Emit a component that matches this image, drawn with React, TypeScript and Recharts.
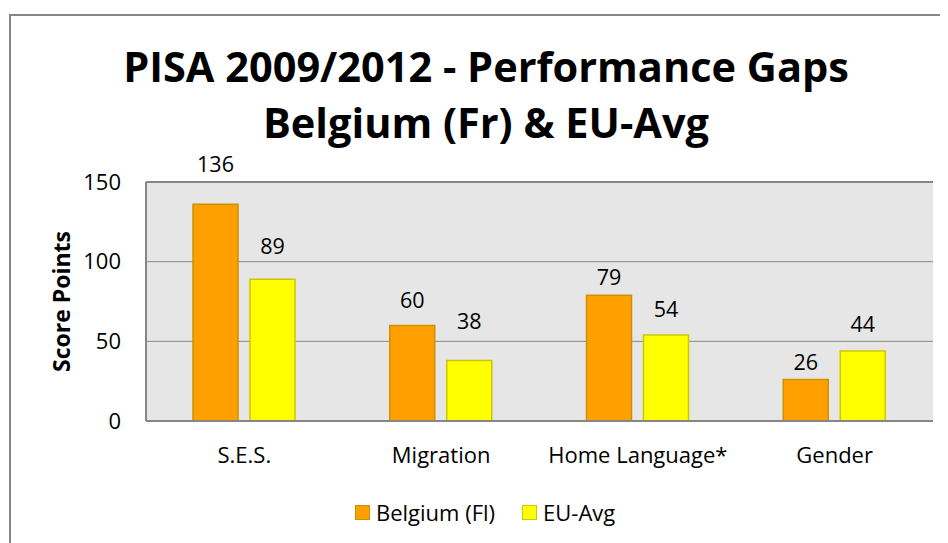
import React from 'react';
import {
  BarChart,
  Bar,
  XAxis,
  YAxis,
  CartesianGrid,
  Legend,
  LabelList,
  ReferenceLine,
} from 'recharts';

const categories = ['S.E.S.', 'Migration', 'Home Language*', 'Gender'];
const belgiumFl = [136, 60, 79, 26];
const euAvg = [89, 38, 54, 44];
const yTicks = [0, 50, 100, 150];
const seriesNames = ['Belgium (Fl)', 'EU-Avg'];
const titleLines = ['PISA 2009/2012 - Performance Gaps', 'Belgium (Fr) & EU-Avg'];

// label gap (px) above each bar, as placed in the original
const belgiumLabelGap = [32, 17, 10, 10];
const euLabelGap = [25, 31, 18, 19];

const data = categories.map((c, i) => ({
  category: c,
  belgium: belgiumFl[i],
  eu: euAvg[i],
}));

const FONT = '"Open Sans", "Noto Sans", sans-serif';
const GREY = '#868686';
const ORANGE = '#FFA000';
const ORANGE_EDGE = '#C99200';
const YELLOW = '#FFFF00';
const YELLOW_EDGE = '#CCC700';

const makeLabel = (gaps: number[]) => (props: any) => {
  const { x, y, width, value, index } = props;
  return (
    <text
      x={Number(x) + Number(width) / 2}
      y={Number(y) - gaps[index]}
      textAnchor="middle"
      fill="#000"
      fontSize={21.5}
      fontFamily={FONT}
    >
      {value}
    </text>
  );
};

const LegendContent = () => {
  const items = [
    { name: seriesNames[0], fill: ORANGE, edge: ORANGE_EDGE },
    { name: seriesNames[1], fill: YELLOW, edge: YELLOW_EDGE },
  ];
  return (
    <div
      style={{
        display: 'flex',
        alignItems: 'center',
        height: 42,
        paddingLeft: 347,
        fontFamily: FONT,
        fontSize: 22,
        color: '#000',
      }}
    >
      {items.map((it, i) => (
        <div
          key={it.name}
          style={{ display: 'flex', alignItems: 'center', marginRight: i === 0 ? 27 : 0 }}
        >
          <span
            style={{
              display: 'inline-block',
              width: 13,
              height: 13,
              background: it.fill,
              border: `1.5px solid ${it.edge}`,
              marginRight: 6,
            }}
          />
          <span>{it.name}</span>
        </div>
      ))}
    </div>
  );
};

export default function App() {
  return (
    <div
      style={{
        position: 'relative',
        width: 940,
        height: 535,
        overflow: 'hidden',
        background: '#fff',
        fontFamily: FONT,
      }}
    >
      <div
        style={{
          position: 'absolute',
          left: 1,
          top: 6,
          width: 2000,
          height: 2000,
          borderTop: `2px solid ${GREY}`,
          borderLeft: `2px solid ${GREY}`,
        }}
      />
      <div style={{ position: 'absolute', left: 0, top: 0 }}>
        <BarChart
          width={940}
          height={535}
          data={data}
          margin={{ top: 174, right: 15, bottom: 10, left: 0 }}
          barSize={45}
          barGap={12}
        >
          <CartesianGrid vertical={false} fill="#E6E6E6" stroke={GREY} strokeWidth={1} />
          <ReferenceLine y={150} stroke={GREY} strokeWidth={2} />
          <XAxis
            dataKey="category"
            height={70}
            tickLine={false}
            tickSize={0}
            tickMargin={26}
            axisLine={{ stroke: GREY, strokeWidth: 2 }}
            tick={{ fill: '#000', fontSize: 22, fontFamily: FONT }}
          />
          <YAxis
            width={138}
            domain={[0, 150]}
            ticks={yTicks}
            interval={0}
            tickLine={false}
            tickSize={0}
            tickMargin={25}
            axisLine={{ stroke: GREY, strokeWidth: 2 }}
            tick={{ fill: '#000', fontSize: 22, fontFamily: FONT }}
            label={{
              value: 'Score Points',
              angle: -90,
              position: 'center',
              dx: -15,
              style: {
                textAnchor: 'middle',
                fontWeight: 700,
                fontSize: 23,
                fontFamily: FONT,
                fill: '#000',
              },
            }}
          />
          <Legend
            verticalAlign="bottom"
            align="left"
            height={42}
            wrapperStyle={{ height: 42 }}
            content={LegendContent}
          />
          <Bar
            dataKey="belgium"
            name={seriesNames[0]}
            fill={ORANGE}
            stroke={ORANGE_EDGE}
            strokeWidth={1.5}
            isAnimationActive={false}
          >
            <LabelList dataKey="belgium" content={makeLabel(belgiumLabelGap)} />
          </Bar>
          <Bar
            dataKey="eu"
            name={seriesNames[1]}
            fill={YELLOW}
            stroke={YELLOW_EDGE}
            strokeWidth={1.5}
            isAnimationActive={false}
          >
            <LabelList dataKey="eu" content={makeLabel(euLabelGap)} />
          </Bar>
        </BarChart>
      </div>
      <div
        style={{
          position: 'absolute',
          left: 0,
          top: 30,
          width: 956,
          textAlign: 'center',
          fontFamily: FONT,
          fontWeight: 700,
          fontSize: 41.5,
          lineHeight: '56px',
          color: '#000',
          whiteSpace: 'nowrap',
        }}
      >
        <div>{titleLines[0]}</div>
        <div>{titleLines[1]}</div>
      </div>
    </div>
  );
}
